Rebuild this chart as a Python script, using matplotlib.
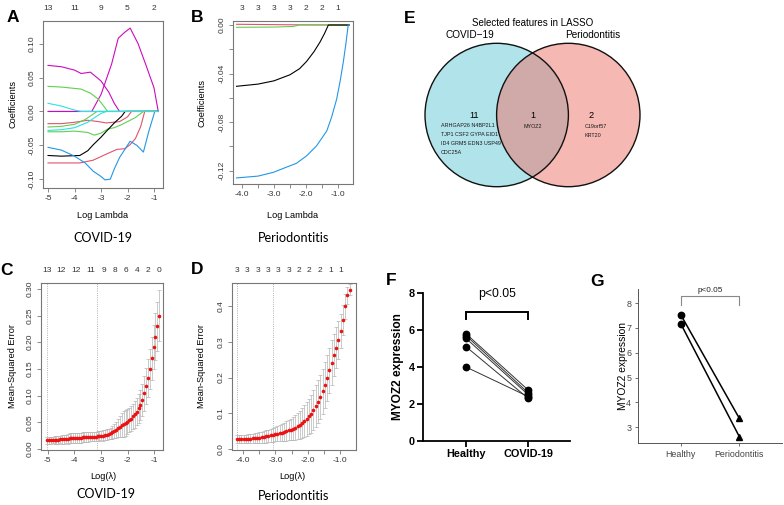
import numpy as np
import matplotlib
matplotlib.use('Agg')
import matplotlib.pyplot as plt
from matplotlib.patches import Circle

plt.rcParams['font.family'] = ['Liberation Sans', 'DejaVu Sans']
plt.rcParams['axes.unicode_minus'] = False

# ---------------- data ----------------
# panel A: LASSO coefficient paths, COVID-19 (knots: log lambda, coefficient)
a_paths = [
    ('#3b3bc4', [-5.0, -0.84], [0.0, 0.0]),
    ('#CD0BBC', [-5.0, -4.5, -4.0, -3.75, -3.4, -3.0, -2.7, -2.5, -2.3],
                [0.068, 0.066, 0.061, 0.056, 0.058, 0.045, 0.028, 0.012, 0.0]),
    ('#CD0BBC', [-5.0, -3.35, -3.0, -2.6, -2.35, -2.1, -1.9, -1.6, -1.3, -1.0, -0.84],
                [0.0, 0.0, 0.025, 0.07, 0.108, 0.117, 0.123, 0.1, 0.068, 0.035, 0.0]),
    ('#61D04F', [-5.0, -4.5, -4.0, -3.75, -3.4, -3.1, -2.9, -2.75],
                [0.037, 0.036, 0.034, 0.033, 0.027, 0.018, 0.008, 0.0]),
    ('#DF536B', [-5.0, -4.5, -4.0, -3.5, -3.1, -2.8, -2.3, -2.0, -1.85],
                [-0.018, -0.018, -0.016, -0.013, -0.015, -0.017, -0.015, -0.008, 0.0]),
    ('#61D04F', [-5.0, -4.5, -4.0, -3.6, -3.3, -3.15],
                [-0.023, -0.022, -0.019, -0.012, -0.004, 0.0]),
    ('#61D04F', [-5.0, -4.5, -4.0, -3.5, -3.25, -3.0, -2.75, -2.5, -2.2, -2.0, -1.7, -1.4],
                [-0.030, -0.030, -0.029, -0.031, -0.035, -0.032, -0.026, -0.024, -0.019, -0.015, -0.009, 0.0]),
    ('#000000', [-5.0, -4.5, -3.8, -3.5, -3.29, -3.0, -2.79, -2.5, -2.22, -2.09],
                [-0.065, -0.066, -0.065, -0.058, -0.049, -0.038, -0.029, -0.017, -0.007, 0.0]),
    ('#DF536B', [-5.0, -4.5, -3.8, -3.3, -2.8, -2.4, -2.1, -1.9, -1.7, -1.5, -1.35],
                [-0.076, -0.076, -0.076, -0.072, -0.063, -0.056, -0.055, -0.049, -0.040, -0.022, 0.0]),
    ('#2297E6', [-5.0, -4.5, -4.0, -3.6, -3.3, -3.0, -2.85, -2.65, -2.5, -2.3, -2.0, -1.9, -1.65, -1.4, -1.2, -0.97],
                [-0.053, -0.057, -0.066, -0.076, -0.088, -0.096, -0.101, -0.100, -0.085, -0.068, -0.050, -0.044, -0.050, -0.060, -0.030, 0.0]),
    ('#28E2E5', [-5.0, -4.5, -4.0, -3.75], [0.012, 0.008, 0.002, 0.0]),
    ('#28E2E5', [-5.0, -4.5, -4.0, -3.5, -3.2, -3.0, -2.8],
                [-0.028, -0.027, -0.024, -0.016, -0.008, -0.003, 0.0]),
]
a_top_pos = [-5, -4, -3, -2, -1]
a_top_lab = ['13', '11', '9', '5', '2']

# panel B: LASSO coefficient paths, periodontitis
b_paths = [
    ('#DF536B', [-4.17, -2.5, -0.65], [0.0006, 0.0002, 0.0]),
    ('#61D04F', [-4.17, -3.0, -2.4, -2.2], [-0.0019, -0.0017, -0.0012, 0.0]),
    ('#000000', [-4.17, -3.5, -3.0, -2.5, -2.2, -1.98, -1.75, -1.56, -1.42, -1.30],
                [-0.0505, -0.0487, -0.046, -0.041, -0.036, -0.030, -0.022, -0.014, -0.007, 0.0]),
    ('#2297E6', [-4.17, -3.5, -3.02, -2.5, -2.3, -1.98, -1.67, -1.35, -1.2, -1.04, -0.93, -0.83, -0.75, -0.68],
                [-0.126, -0.1245, -0.1214, -0.116, -0.114, -0.1078, -0.0996, -0.0873, -0.076, -0.061, -0.046, -0.030, -0.015, 0.0]),
]
b_top_pos = [-4.0, -3.5, -3.0, -2.5, -2.0, -1.5, -1.0]
b_top_lab = ['3', '3', '3', '3', '2', '2', '1']

# panel C: cross-validation curve, COVID-19
c_loglam = [-5.02, -4.95, -4.88, -4.81, -4.74, -4.67, -4.60, -4.53, -4.46, -4.39,
            -4.32, -4.25, -4.18, -4.11, -4.04, -3.97, -3.90, -3.83, -3.76, -3.69,
            -3.62, -3.55, -3.48, -3.41, -3.34, -3.27, -3.20, -3.13, -3.06, -2.99,
            -2.92, -2.85, -2.78, -2.71, -2.64, -2.57, -2.50, -2.43, -2.36, -2.29,
            -2.22, -2.15, -2.08, -2.01, -1.94, -1.87, -1.80, -1.73, -1.66, -1.59,
            -1.52, -1.45, -1.38, -1.31, -1.24, -1.17, -1.10, -1.03, -0.96, -0.89, -0.82]
c_mse = [0.016, 0.016, 0.016, 0.017, 0.017, 0.017, 0.017, 0.018, 0.018, 0.018,
         0.019, 0.019, 0.020, 0.020, 0.020, 0.021, 0.021, 0.021, 0.021, 0.022,
         0.022, 0.022, 0.022, 0.023, 0.023, 0.023, 0.023, 0.024, 0.024, 0.025,
         0.025, 0.026, 0.027, 0.028, 0.029, 0.031, 0.033, 0.036, 0.039, 0.042,
         0.045, 0.047, 0.049, 0.051, 0.054, 0.057, 0.061, 0.065, 0.070, 0.076,
         0.083, 0.092, 0.104, 0.118, 0.133, 0.150, 0.170, 0.191, 0.210, 0.230, 0.250]
c_se = [0.006, 0.006, 0.006, 0.006, 0.007, 0.007, 0.007, 0.007, 0.008, 0.008,
        0.008, 0.009, 0.009, 0.009, 0.009, 0.009, 0.009, 0.009, 0.009, 0.009,
        0.009, 0.009, 0.009, 0.009, 0.009, 0.009, 0.009, 0.009, 0.009, 0.009,
        0.010, 0.010, 0.010, 0.010, 0.011, 0.012, 0.013, 0.015, 0.017, 0.020,
        0.023, 0.025, 0.024, 0.023, 0.023, 0.023, 0.024, 0.025, 0.026, 0.027,
        0.028, 0.030, 0.032, 0.034, 0.036, 0.038, 0.040, 0.042, 0.044, 0.046, 0.048]
c_vlines = [-5.02, -3.15]
c_top_pos = [-5.02, -4.49, -3.93, -3.37, -2.89, -2.46, -2.05, -1.64, -1.23, -0.82]
c_top_lab = ['13', '12', '12', '11', '9', '8', '6', '4', '2', '0']

# panel D: cross-validation curve, periodontitis
d_loglam = [-4.20, -4.13, -4.06, -3.99, -3.92, -3.85, -3.78, -3.71, -3.64, -3.57,
            -3.50, -3.43, -3.36, -3.29, -3.22, -3.15, -3.08, -3.01, -2.94, -2.87,
            -2.80, -2.73, -2.66, -2.59, -2.52, -2.45, -2.38, -2.31, -2.24, -2.17,
            -2.10, -2.03, -1.96, -1.89, -1.82, -1.75, -1.68, -1.61, -1.54, -1.47,
            -1.40, -1.33, -1.26, -1.19, -1.12, -1.05, -0.98, -0.91, -0.84, -0.77, -0.70]
d_mse = [0.027, 0.027, 0.027, 0.028, 0.028, 0.029, 0.029, 0.030, 0.030, 0.031,
         0.032, 0.033, 0.034, 0.035, 0.036, 0.038, 0.039, 0.041, 0.042, 0.044,
         0.046, 0.048, 0.050, 0.052, 0.054, 0.057, 0.060, 0.064, 0.068, 0.073,
         0.078, 0.084, 0.091, 0.099, 0.109, 0.120, 0.132, 0.146, 0.162, 0.180,
         0.199, 0.220, 0.242, 0.263, 0.284, 0.306, 0.330, 0.362, 0.400, 0.430, 0.446]
d_se = [0.011, 0.011, 0.011, 0.012, 0.012, 0.012, 0.013, 0.013, 0.014, 0.014,
        0.015, 0.015, 0.016, 0.017, 0.017, 0.018, 0.019, 0.020, 0.021, 0.022,
        0.024, 0.025, 0.027, 0.028, 0.030, 0.032, 0.034, 0.036, 0.039, 0.041,
        0.044, 0.047, 0.050, 0.053, 0.056, 0.058, 0.060, 0.062, 0.063, 0.064,
        0.064, 0.063, 0.062, 0.060, 0.057, 0.053, 0.048, 0.042, 0.035, 0.025, 0.015]
d_vlines = [-4.20, -3.07]
d_top_pos = [-4.2, -3.87, -3.55, -3.24, -2.91, -2.59, -2.27, -1.95, -1.63, -1.30, -0.97]
d_top_lab = ['3', '3', '3', '3', '3', '3', '2', '2', '2', '1', '1']

# panel E: Venn of selected features
venn_counts = {'covid': 11, 'both': 1, 'perio': 2}
covid_genes = ['ARHGAP26 N4BP2L1', 'TJP1 CSF2 GYPA EID1', 'ID4 GRM5 EDN3 USP49', 'CDC25A']
both_genes = ['MYOZ2']
perio_genes = ['C19orf57', 'KRT20']

# panel F: MYOZ2 expression, COVID-19 dataset
f_groups = ['Healthy', 'COVID-19']
f_healthy = [5.8, 5.7, 5.55, 5.1, 4.0]
f_covid = [2.75, 2.6, 2.5, 2.3, 2.4]

# panel G: MYOZ2 expression, periodontitis dataset
g_groups = ['Healthy', 'Periodontitis']
g_healthy = [7.53, 7.17]
g_perio = [3.36, 2.62]

# ---------------- layout helpers ----------------
W, H = 784, 505
fig = plt.figure(figsize=(W / 100, H / 100), dpi=100)


def box(x0, y0, x1, y1):
    return fig.add_axes([x0 / W, 1 - y1 / H, (x1 - x0) / W, (y1 - y0) / H])


def txt(x, y, s, **kw):
    kw.setdefault('ha', 'center')
    kw.setdefault('va', 'center')
    fig.text(x / W, 1 - y / H, s, **kw)


def r_style(ax):
    for s in ax.spines.values():
        s.set_color('#777777')
        s.set_linewidth(0.8)
    ax.tick_params(which='both', direction='out', length=3, width=0.6, color='#777777',
                   labelsize=6.0, labelcolor='#333333', pad=2)
    ax.tick_params(axis='y', labelrotation=90)
    for lab in ax.get_yticklabels():
        lab.set_va('center')


def top_labels(ax, pos, labs):
    for p, l in zip(pos, labs):
        ax.annotate(l, (p, 1), xycoords=('data', 'axes fraction'), xytext=(0, 9),
                    textcoords='offset points', ha='center', va='center',
                    fontsize=6.0, color='#333333', annotation_clip=False)


def paths(ax, data, xend):
    for col, xs, ys in data:
        xs = list(xs) + [xend]
        ys = list(ys) + [0.0]
        ax.plot(xs, ys, color=col, lw=0.8)


sub_font = ['Lato', 'DejaVu Sans']

# ---------------- A ----------------
ax = box(43, 21, 163, 188)
paths(ax, a_paths, -0.84)
ax.set_xlim(-5.19, -0.66)
ax.set_ylim(-0.113, 0.1335)
ax.set_xticks([-5, -4, -3, -2, -1])
ax.set_yticks([-0.10, -0.05, 0.0, 0.05, 0.10])
ax.set_yticklabels(['-0.10', '-0.05', '0.00', '0.05', '0.10'])
r_style(ax)
top_labels(ax, a_top_pos, a_top_lab)
txt(12.7, 104, 'Coefficients', rotation=90, fontsize=6.6)
txt(103, 216, 'Log Lambda', fontsize=6.6)
txt(103, 238, 'COVID-19', fontsize=9, family=sub_font)
txt(12.5, 17.5, 'A', fontsize=12.5, fontweight='bold')

# ---------------- B ----------------
ax = box(233, 21, 353, 184)
paths(ax, b_paths, -0.65)
ax.set_xlim(-4.28, -0.53)
ax.set_ylim(-0.131, 0.0033)
ax.set_xticks([-4.0, -3.0, -2.0, -1.0])
ax.set_xticklabels(['-4.0', '-3.0', '-2.0', '-1.0'])
ax.set_xticks([-3.5, -2.5, -1.5], minor=True)
ax.set_yticks([0.0, -0.04, -0.08, -0.12])
ax.set_yticklabels(['0.00', '-0.04', '-0.08', '-0.12'])
ax.set_yticks([-0.02, -0.06, -0.10], minor=True)
r_style(ax)
top_labels(ax, b_top_pos, b_top_lab)
txt(201.7, 103, 'Coefficients', rotation=90, fontsize=6.6)
txt(292.5, 216, 'Log Lambda', fontsize=6.6)
txt(294, 238, 'Periodontitis', fontsize=9.2, family=sub_font)
txt(197.5, 17.2, 'B', fontsize=12.5, fontweight='bold')

# ---------------- C ----------------
ax = box(41, 283, 163, 450)
for v in c_vlines:
    ax.axvline(v, color='#999999', ls=':', lw=0.6)
ax.errorbar(c_loglam, c_mse, yerr=c_se, fmt='none', ecolor='#b5b5b5',
            elinewidth=0.5, capsize=1.2, capthick=0.5)
ax.plot(c_loglam, c_mse, 'o', color='#ee1111', ms=2.6, mec='none')
ax.set_xlim(-5.25, -0.674)
ax.set_ylim(-0.002, 0.311)
ax.set_xticks([-5, -4, -3, -2, -1])
ax.set_yticks([0.0, 0.05, 0.10, 0.15, 0.20, 0.25, 0.30])
ax.set_yticklabels(['0.00', '0.05', '0.10', '0.15', '0.20', '0.25', '0.30'])
r_style(ax)
top_labels(ax, c_top_pos, c_top_lab)
txt(12.7, 366.5, 'Mean-Squared Error', rotation=90, fontsize=6.6)
txt(103.3, 476.7, 'Log(λ)', fontsize=6.6)
txt(106, 494, 'COVID-19', fontsize=9, family=sub_font)
txt(6.7, 270.8, 'C', fontsize=12.5, fontweight='bold')

# ---------------- D ----------------
ax = box(232, 283, 356, 450)
for v in d_vlines:
    ax.axvline(v, color='#999999', ls=':', lw=0.6)
ax.errorbar(d_loglam, d_mse, yerr=d_se, fmt='none', ecolor='#b5b5b5',
            elinewidth=0.5, capsize=1.2, capthick=0.5)
ax.plot(d_loglam, d_mse, 'o', color='#ee1111', ms=2.6, mec='none')
ax.set_xlim(-4.35, -0.50)
ax.set_ylim(-0.003, 0.465)
ax.set_xticks([-4.0, -3.0, -2.0, -1.0])
ax.set_xticklabels(['-4.0', '-3.0', '-2.0', '-1.0'])
ax.set_xticks([-3.5, -2.5, -1.5], minor=True)
ax.set_yticks([0.0, 0.1, 0.2, 0.3, 0.4])
ax.set_yticklabels(['0.0', '0.1', '0.2', '0.3', '0.4'])
r_style(ax)
top_labels(ax, d_top_pos, d_top_lab)
txt(201.7, 366.5, 'Mean-Squared Error', rotation=90, fontsize=6.6)
txt(292.7, 476.7, 'Log(λ)', fontsize=6.6)
txt(294, 496, 'Periodontitis', fontsize=9.2, family=sub_font)
txt(197.5, 270, 'D', fontsize=12.5, fontweight='bold')

# ---------------- E (Venn) ----------------
ve = box(400, 0, 784, 260)
ve.set_xlim(400, 784)
ve.set_ylim(260, 0)
ve.axis('off')
ve.add_patch(Circle((496.7, 115), 71.7, fc=(0.28, 0.74, 0.82, 0.42), ec='none'))
ve.add_patch(Circle((568.3, 115), 71.7, fc=(0.93, 0.45, 0.40, 0.5), ec='none'))
ve.add_patch(Circle((496.7, 115), 71.7, fill=False, ec='#111111', lw=1.0))
ve.add_patch(Circle((568.3, 115), 71.7, fill=False, ec='#111111', lw=1.0))
ve.text(532.7, 23.3, 'Selected features in LASSO', ha='center', va='center', fontsize=7.0)
ve.text(470, 35, 'COVID−19', ha='center', va='center', fontsize=7.2)
ve.text(593, 35, 'Periodontitis', ha='center', va='center', fontsize=7.2)
ve.text(474, 115.7, str(venn_counts['covid']), ha='center', va='center', fontsize=6.6)
ve.text(532.7, 115.7, str(venn_counts['both']), ha='center', va='center', fontsize=6.6)
ve.text(591, 115.7, str(venn_counts['perio']), ha='center', va='center', fontsize=6.6)
gene_kw = dict(va='center', fontsize=3.9, color='#1a1a1a')
for i, g in enumerate(covid_genes):
    ve.text(441, 125.3 + 9.2 * i, g, ha='left', **gene_kw)
for i, g in enumerate(both_genes):
    ve.text(532.7, 126 + 9.2 * i, g, ha='center', **gene_kw)
for i, g in enumerate(perio_genes):
    ve.text(584.3, 126 + 9.2 * i, g, ha='left', **gene_kw)
txt(409.5, 18.7, 'E', fontsize=12.5, fontweight='bold')

# ---------------- F ----------------
ax = box(423, 293, 570, 441)
for h, c in zip(f_healthy, f_covid):
    ax.plot([0, 1], [h, c], color='#333333', lw=0.7, zorder=2)
ax.plot([0] * len(f_healthy), f_healthy, 'o', color='black', ms=4.6, zorder=3)
ax.plot([1] * len(f_covid), f_covid, 'o', color='black', ms=4.6, zorder=3)
ax.plot([0, 0, 1, 1], [6.58, 6.97, 6.97, 6.58], color='black', lw=1.4,
        solid_joinstyle='miter', clip_on=False)
ax.text(0.5, 7.93, 'p<0.05', ha='center', va='center', fontsize=8.8)
ax.set_xlim(-0.69, 1.67)
ax.set_ylim(0, 8)
ax.set_xticks([0, 1])
ax.set_xticklabels(f_groups, fontweight='bold')
ax.set_yticks([0, 2, 4, 6, 8])
ax.set_yticklabels(['0', '2', '4', '6', '8'], fontweight='bold')
for s in ['top', 'right']:
    ax.spines[s].set_visible(False)
for s in ['left', 'bottom']:
    ax.spines[s].set_linewidth(1.3)
ax.tick_params(direction='out', length=4, width=1.3, labelsize=7.8, pad=2)
txt(398, 367, 'MYOZ2 expression', rotation=90, fontsize=8.6, fontweight='bold')
txt(390.8, 280.5, 'F', fontsize=12.5, fontweight='bold')

# ---------------- G ----------------
ax = box(637.5, 289.3, 782, 443.3)
for h, p in zip(g_healthy, g_perio):
    ax.plot([1, 2], [h, p], color='black', lw=1.1, zorder=2)
ax.plot([1] * len(g_healthy), g_healthy, 'o', color='black', ms=4.6, zorder=3)
ax.plot([2] * len(g_perio), g_perio, '^', color='black', ms=4.4, zorder=3)
ax.plot([1, 1, 2, 2], [7.93, 8.27, 8.27, 7.93], color='#888888', lw=0.8, clip_on=False)
ax.text(1.5, 8.53, 'p<0.05', ha='center', va='center', fontsize=5.9, color='#222222')
ax.set_xlim(0.26, 2.73)
ax.set_ylim(2.35, 8.56)
ax.set_xticks([1, 2])
ax.set_xticklabels(g_groups)
ax.set_yticks([3, 4, 5, 6, 7, 8])
for s in ['top', 'right']:
    ax.spines[s].set_visible(False)
for s in ['left', 'bottom']:
    ax.spines[s].set_linewidth(0.7)
    ax.spines[s].set_color('#555555')
ax.tick_params(direction='out', length=2.5, width=0.6, color='#555555',
               labelsize=6.4, labelcolor='#444444', pad=2)
txt(622.7, 366, 'MYOZ2 expression', rotation=90, fontsize=7.4)
txt(596.7, 281, 'G', fontsize=12.5, fontweight='bold')

fig.savefig('out.png', dpi=100)
